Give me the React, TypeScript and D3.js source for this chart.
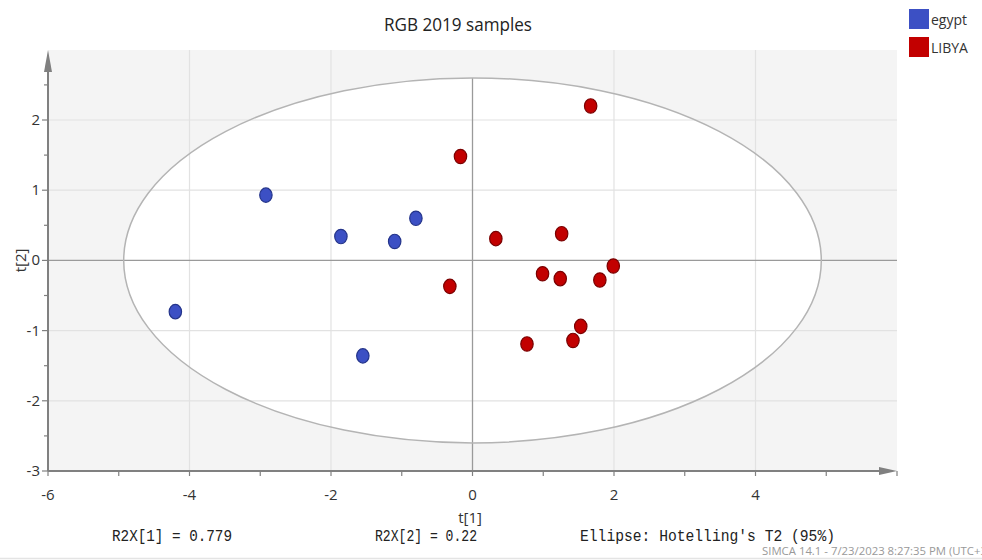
import React from "react";
import * as d3 from "d3";

const egyptT1 = [-2.92, -4.2, -1.86, -1.1, -0.8, -1.55];
const egyptT2 = [0.93, -0.73, 0.34, 0.27, 0.6, -1.36];
const libyaT1 = [1.67, -0.17, 0.33, 1.26, -0.32, 0.99, 1.24, 1.8, 1.99, 1.53, 1.42, 0.77];
const libyaT2 = [2.2, 1.48, 0.31, 0.38, -0.37, -0.19, -0.26, -0.28, -0.08, -0.94, -1.14, -1.19];
const xTicks = [-6, -4, -2, 0, 2, 4];
const yTicks = [-3, -2, -1, 0, 1, 2];
const ellipseT1 = 4.93;
const ellipseT2 = 2.6;
const seriesNames = ["egypt", "LIBYA"];
const footTexts = ["R2X[1] = 0.779", "R2X[2] = 0.22", "Ellipse: Hotelling's T2 (95%)"];

export default function App() {
  const x = d3.scaleLinear().domain([-6, 4]).range([48, 755.5]);
  const y = d3.scaleLinear().domain([-3, 2]).range([471, 120]);
  const left = 48, right = 897, top = 50, bottom = 471;
  const allX = d3.range(-6, 7, 1);
  const halfY = d3.range(-2.5, 3, 1);
  const egypt = egyptT1.map((v, i) => [v, egyptT2[i]]);
  const libya = libyaT1.map((v, i) => [v, libyaT2[i]]);
  const sans = "'Open Sans', 'Noto Sans', sans-serif";
  const mono = "'Liberation Mono', 'DejaVu Sans Mono', monospace";
  return (
    <svg width={982} height={560} style={{ position: "absolute", left: 0, top: 0, background: "#fff" }}>
      <rect x={left} y={top} width={right - left} height={bottom - top} fill="#f4f4f4" />
      <ellipse cx={x(0)} cy={y(0)} rx={x(ellipseT1) - x(0)} ry={y(0) - y(ellipseT2)} fill="#ffffff" />
      {yTicks.filter((t) => t !== 0 && t !== -3).map((t) => (
        <line key={"gy" + t} x1={left} x2={right} y1={y(t)} y2={y(t)} stroke="#e2e2e2" strokeWidth={1.2} />
      ))}
      {xTicks.filter((t) => t !== 0 && t !== -6).map((t) => (
        <line key={"gx" + t} x1={x(t)} x2={x(t)} y1={top} y2={bottom} stroke="#e2e2e2" strokeWidth={1.2} />
      ))}
      <line x1={left} x2={right} y1={y(0)} y2={y(0)} stroke="#9a9a9a" strokeWidth={1.3} />
      <line x1={x(0)} x2={x(0)} y1={top + 28} y2={bottom} stroke="#9a9a9a" strokeWidth={1.3} />
      <ellipse cx={x(0)} cy={y(0)} rx={x(ellipseT1) - x(0)} ry={y(0) - y(ellipseT2)} fill="none" stroke="#b4b4b4" strokeWidth={1.5} />
      {/* axes */}
      <line x1={left} x2={left} y1={bottom} y2={top + 20} stroke="#808080" strokeWidth={2} />
      <path d={`M${left - 4},${top + 22} L${left},${top} L${left + 4},${top + 22} Z`} fill="#808080" />
      <line x1={left} x2={right - 16} y1={bottom} y2={bottom} stroke="#808080" strokeWidth={2} />
      <path d={`M${right - 18},${bottom - 4} L${right},${bottom} L${right - 18},${bottom + 4} Z`} fill="#808080" />
      {allX.map((t) => (
        <line key={"tx" + t} x1={x(t)} x2={x(t)} y1={bottom} y2={bottom + 5} stroke="#808080" strokeWidth={1.2} />
      ))}
      {yTicks.map((t) => (
        <line key={"ty" + t} x1={left - 6} x2={left} y1={y(t)} y2={y(t)} stroke="#808080" strokeWidth={1.2} />
      ))}
      {halfY.map((t) => (
        <line key={"hy" + t} x1={left - 4} x2={left} y1={y(t)} y2={y(t)} stroke="#808080" strokeWidth={1.2} />
      ))}
      {xTicks.map((t) => (
        <text key={"lx" + t} x={x(t)} y={bottom + 29} textAnchor="middle" fontFamily={sans} fontSize={15} fill="#333">
          {t}
        </text>
      ))}
      {yTicks.map((t) => (
        <text key={"ly" + t} x={left - 8} y={y(t) + 5} textAnchor="end" fontFamily={sans} fontSize={15} fill="#333">
          {t}
        </text>
      ))}
      <text x={470} y={523} textAnchor="middle" fontFamily={sans} fontSize={15} fill="#333">t[1]</text>
      <text transform={`translate(26,${y(0)}) rotate(-90)`} textAnchor="middle" fontFamily={sans} fontSize={15} fill="#333">t[2]</text>
      {/* points */}
      {egypt.map((d, i) => (
        <ellipse key={"e" + i} cx={x(d[0])} cy={y(d[1])} rx={6.2} ry={7.2} fill="#3c50c4" stroke="#24348a" strokeWidth={1.2} />
      ))}
      {libya.map((d, i) => (
        <ellipse key={"l" + i} cx={x(d[0])} cy={y(d[1])} rx={6.2} ry={7.2} fill="#c20000" stroke="#7a0000" strokeWidth={1.2} />
      ))}
      {/* title */}
      <text x={458} y={31} textAnchor="middle" fontFamily={sans} fontSize={19} fill="#222" textLength={148} lengthAdjust="spacingAndGlyphs">RGB 2019 samples</text>
      {/* legend */}
      <rect x={909} y={9} width={20} height={20} fill="#3c50c4" />
      <text x={931} y={25} fontFamily={sans} fontSize={14} fill="#333">{seriesNames[0]}</text>
      <rect x={909} y={37} width={20} height={20} fill="#c20000" />
      <text x={931} y={53} fontFamily={sans} fontSize={14} fill="#333">{seriesNames[1]}</text>
      {/* footer */}
      <text x={112} y={541} fontFamily={mono} fontSize={16} fill="#222" textLength={120} lengthAdjust="spacingAndGlyphs">{footTexts[0]}</text>
      <text x={375} y={541} fontFamily={mono} fontSize={16} fill="#222" textLength={102} lengthAdjust="spacingAndGlyphs">{footTexts[1]}</text>
      <text x={580} y={541} fontFamily={mono} fontSize={16} fill="#222" textLength={255} lengthAdjust="spacingAndGlyphs">{footTexts[2]}</text>
      <text x={762} y={555} fontFamily={sans} fontSize={10} fill="#999" textLength={225} lengthAdjust="spacingAndGlyphs">SIMCA 14.1 - 7/23/2023 8:27:35 PM (UTC+3</text>
      <line x1={0} x2={982} y1={558.5} y2={558.5} stroke="#e4e4e4" strokeWidth={1.5} />
    </svg>
  );
}
